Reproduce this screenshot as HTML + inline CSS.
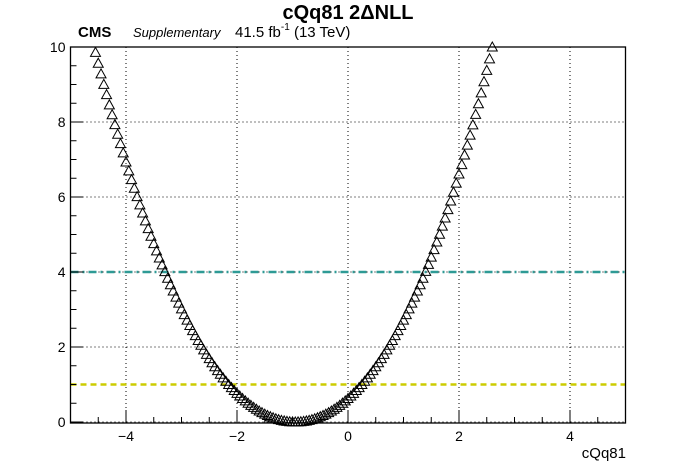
<!DOCTYPE html>
<html><head><meta charset="utf-8">
<style>
body{margin:0;background:#fff;}
svg{display:block;font-family:"Liberation Sans",sans-serif;}
</style></head>
<body>
<svg id="chart" width="696" height="472" viewBox="0 0 696 472">
<rect width="696" height="472" fill="#fff"/>
<text x="348" y="19" text-anchor="middle" font-size="20" font-weight="bold">cQq81 2ΔNLL</text>
<text x="78" y="37" font-size="15" font-weight="bold">CMS</text>
<text x="133" y="37" font-size="13" font-style="italic">Supplementary</text>
<text x="235" y="37" font-size="15">41.5 fb<tspan font-size="10" dy="-7">-1</tspan><tspan dy="7"> (13 TeV)</tspan></text>
<g id="grid"></g>
<g id="lines"></g>
<g id="marks"></g>
<g id="axes"></g>
<text x="626" y="458" text-anchor="end" font-size="15">cQq81</text>
</svg>
<script>
const xStart = -4.55;
const xStep = 0.05;
const yValues = [
9.857,9.568,9.284,9.003,8.729,8.458,8.193,7.931,7.675,7.423,7.176,6.934,6.696,6.463,6.234,6.009,5.789,5.574,5.363,5.157,4.954,4.757,4.563,4.374,4.189,4.009,3.833,3.661,3.493,3.330,3.171,3.016,2.865,2.718,2.575,2.437,2.303,2.172,2.046,1.923,1.805,1.691,1.580,1.474,1.371,1.272,1.177,1.087,0.999,0.918,0.840,0.765,0.694,0.626,0.562,0.501,0.444,0.390,0.340,0.293,0.250,0.210,0.174,0.141,0.111,0.085,0.0625,0.0434,0.0278,0.0156,0.0069,0.0017,
0,
0.0017,0.0069,0.0156,0.0278,0.0434,0.0625,0.085,0.111,0.141,0.174,0.210,0.250,0.293,0.340,0.390,0.444,0.501,0.562,0.626,0.694,0.765,0.840,0.918,0.999,1.087,1.177,1.272,1.371,1.474,1.580,1.691,1.805,1.923,2.046,2.172,2.303,2.437,2.575,2.718,2.865,3.016,3.171,3.330,3.493,3.661,3.833,4.016,4.204,4.398,4.596,4.800,5.008,5.222,5.440,5.664,5.893,6.128,6.369,6.614,6.865,7.121,7.383,7.650,7.924,8.202,8.488,8.778,9.075,9.376,9.685,9.999
];
const xTicks = [-4,-2,0,2,4];
const xTickLabels = ["\u22124","\u22122","0","2","4"];
const yTicks = [0,2,4,6,8,10];
const yTickLabels = ["0","2","4","6","8","10"];
const thresholds = [4,1];

const L=70.5,R=625.5,T=47,B=422;
const X=v=>L+(v+5)/10*(R-L);
const Y=v=>B-v/10*(B-T);
const NS="http://www.w3.org/2000/svg";
function mk(tag,parent,attrs){const e=document.createElementNS(NS,tag);for(const k in attrs)e.setAttribute(k,attrs[k]);parent.appendChild(e);return e;}
const grid=document.getElementById('grid'),lines=document.getElementById('lines'),marks=document.getElementById('marks'),axes=document.getElementById('axes');
xTicks.forEach(t=>{const e=mk('line',grid,{x1:X(t),x2:X(t),y1:T,y2:B,stroke:'#000','stroke-width':1,'stroke-dasharray':'1,3'});

});
yTicks.forEach(t=>{if(t===10)return;const e=mk('line',grid,{x1:L,x2:R,y1:Y(t),y2:Y(t),stroke:'#000','stroke-width':1,'stroke-dasharray':'1,3'});

});
const l4=mk('line',lines,{x1:L,x2:R,y1:Y(thresholds[0]),y2:Y(thresholds[0]),stroke:'#2e9a95','stroke-width':2.5,'stroke-dasharray':'8,4,2,4'});


const l1=mk('line',lines,{x1:L,x2:R,y1:Y(thresholds[1]),y2:Y(thresholds[1]),stroke:'#cccc00','stroke-width':2.5,'stroke-dasharray':'6,4'});


yValues.forEach((v,i)=>{const cx=X(xStart+i*xStep),cy=Y(v);
const p=mk('polygon',marks,{points:`${cx-5},${cy+4} ${cx+5},${cy+4} ${cx},${cy-5}`,fill:'none',stroke:'#000','stroke-width':1});

});
const frame=mk('rect',axes,{x:L,y:T,width:R-L,height:B-T+1,fill:'none',stroke:'#000','stroke-width':1.3});


for(let v=-5;v<=5.001;v+=0.5){const major=Math.abs(v-Math.round(v/2)*2)<1e-6;
const e=mk('line',axes,{x1:X(v),x2:X(v),y1:B+1,y2:B+1-(major?13:6),stroke:'#000','stroke-width':1});

}
for(let v=0;v<=10.001;v+=0.5){const major=Math.abs(v-Math.round(v/2)*2)<1e-6;
const e=mk('line',axes,{x1:L,x2:L+(major?13:6),y1:Y(v),y2:Y(v),stroke:'#000','stroke-width':1});

}
xTicks.forEach((t,i)=>{const e=mk('text',axes,{x:X(t),y:441,'text-anchor':'middle','font-size':14});e.textContent=xTickLabels[i];

});
yTicks.forEach((t,i)=>{const e=mk('text',axes,{x:L-5,y:Y(t)+5,'text-anchor':'end','font-size':14});e.textContent=yTickLabels[i];

});
</script>
</body></html>
